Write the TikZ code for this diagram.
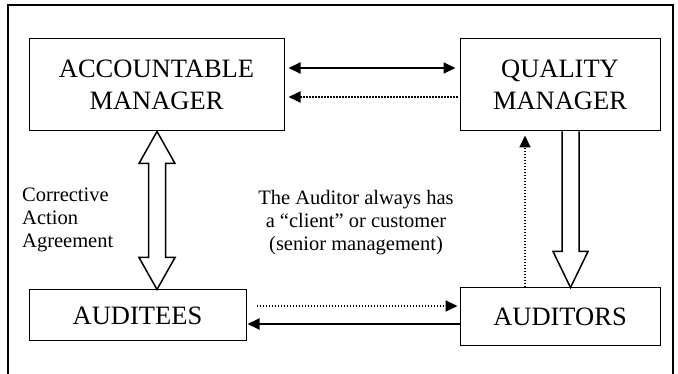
\documentclass[tikz,border=0pt]{standalone}
\usepackage{fontspec}
\setmainfont{Liberation Serif}
\usetikzlibrary{arrows.meta,calc}
\begin{document}
\begin{tikzpicture}[x=1pt,y=-1pt,
  box/.style={draw,line width=1pt,inner sep=0pt,align=center,font=\fontsize{26.5}{32}\selectfont},
  lbl/.style={font=\fontsize{20.5}{23}\selectfont,inner sep=0pt},
  tip/.tip={Triangle[length=12pt,width=11pt]},
  solidarr/.style={line width=2pt,-tip},
  dotarr/.style={line width=1.8pt,dash pattern=on 1.5pt off 1.5pt,-tip},
  hollow/.style={draw,line width=1.5pt,fill=white,line join=miter}]
\useasboundingbox (0,0) rectangle (678,374);
\draw[line width=1.5pt] (8,390) -- (8,5) -- (673,5) -- (673,390);

\node[box,minimum width=255pt,minimum height=92pt] (am) at (156.5,85) {ACCOUNTABLE\\MANAGER};
\node[box,minimum width=200pt,minimum height=92pt] (qm) at (560,85) {QUALITY\\MANAGER};
\node[box,minimum width=217pt,minimum height=51pt] (ae) at (137.5,315.5) {AUDITEES};
\node[box,minimum width=200pt,minimum height=58pt] (au) at (560,317) {AUDITORS};

\node[lbl,align=left,anchor=base west] (cap) at (22,248) {Corrective\\ Action\\Agreement};
\node[lbl,align=center,anchor=base] (note) at (356,251) {The Auditor always has\\a “client” or customer\\(senior management)};

% top arrows
\draw[solidarr,tip-tip] ($(am.east)+(4,-17)$) -- ($(qm.west)+(-4,-17)$);
\draw[dotarr] ($(qm.west)+(-2,12)$) -- ($(am.east)+(4,12)$);
% bottom arrows
\draw[dotarr] ($(ae.east)+(10,-9.5)$) -- ($(au.west)+(-2,-11)$);
\draw[solidarr] ($(au.west)+(0,7)$) -- ($(ae.east)+(1,8.5)$);
% vertical dotted
\draw[dotarr] ($(au.north)+(-35,0)$) -- ($(qm.south)+(-35,4)$);

% hollow double arrow
\draw[hollow] ($(am.south)+(0.5,0)$) -- ++(18,32) -- ++(-9.5,0)
  -- ($(am.south |- ae.north)+(9,-32)$) -- ++(9.5,0)
  -- ($(am.south |- ae.north)+(0.5,0)$) -- ++(-18,-32) -- ++(9.5,0)
  -- ($(am.south)+(-8,32)$) -- ++(-9.5,0) -- cycle;
% hollow single arrow
\draw[hollow] ($(qm.south)+(2,0)$) -- ($(au.north)+(2,-36)$) -- ++(-9,0)
  -- ($(au.north)+(10.5,0)$) -- ($(au.north)+(28,-36)$) -- ++(-9,0)
  -- ($(qm.south)+(19,0)$);
\end{tikzpicture}
\end{document}
